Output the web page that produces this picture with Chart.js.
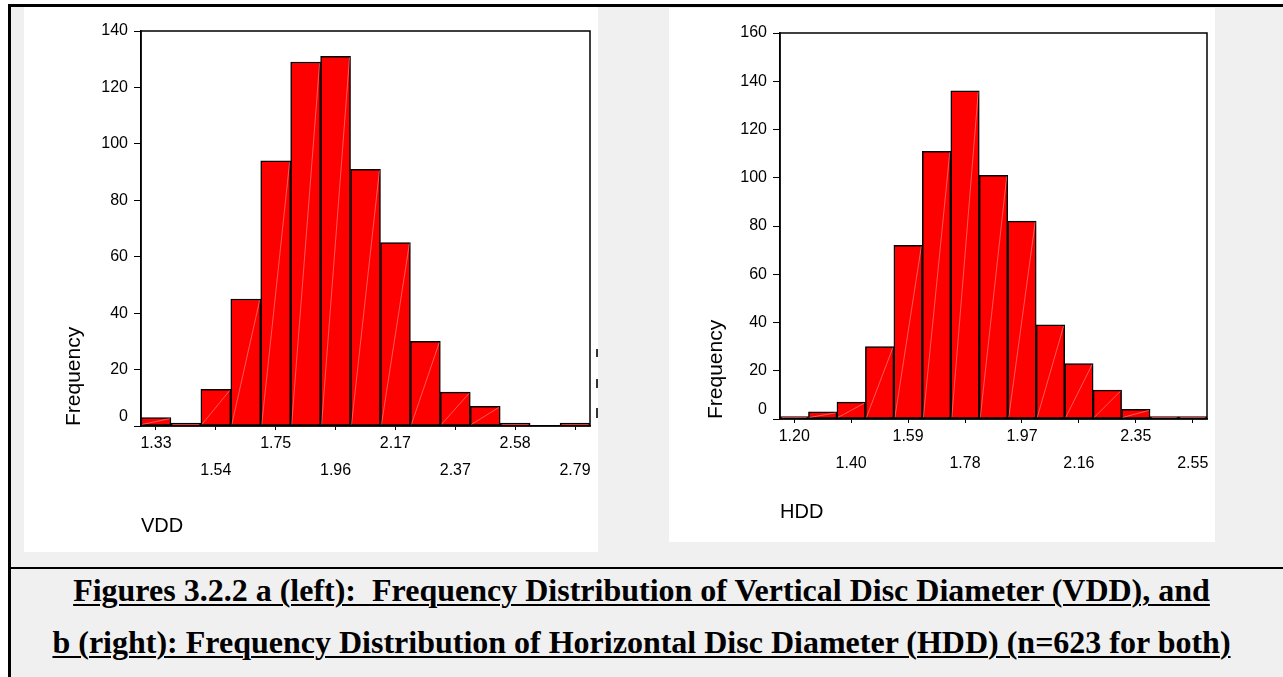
<!DOCTYPE html>
<html lang="en">

<head>
  <meta charset="UTF-8">
  <title>Disc diameter histograms</title>
  <style>
    body {
      margin: 0;
      width: 1283px;
      height: 677px;
      overflow: hidden;
      position: relative;
      background: #fff;
      font-family: "Liberation Sans", Arial, sans-serif;
    }

    #frame {
      position: absolute;
      left: 8px;
      top: 4px;
      width: 1300px;
      height: 700px;
      border-top: 3px solid #000;
      border-left: 3px solid #000;
      background: #f0f0f0;
    }

    #sep {
      position: absolute;
      left: 8px;
      top: 567px;
      width: 1300px;
      height: 2px;
      background: #000;
    }

    .panel {
      position: absolute;
      background: #fff;
    }

    #left-panel { left: 24px; top: 7px; width: 574px; height: 545px; }
    #right-panel { left: 669px; top: 8px; width: 546px; height: 534px; }

    /* clipped bits of a legend at the right edge of the left panel */
    .stub { position: absolute; left: 596px; width: 2px; background: #333; }

    #caption {
      position: absolute;
      left: 0;
      top: 564px;
      width: 1283px;
      text-align: center;
      font: bold 32px "Liberation Serif", "Times New Roman", serif;
      line-height: 52px;
      white-space: pre;
      color: #000;
    }

    #caption span {
      text-decoration: underline;
      text-decoration-thickness: 2px;
      text-underline-offset: 3px;
    }
  </style>
</head>

<body>
  <div id="frame"></div>
  <div id="sep"></div>
  <div class="panel" id="left-panel"><canvas id="vdd" width="574" height="545"></canvas></div>
  <div class="panel" id="right-panel"><canvas id="hdd" width="546" height="534"></canvas></div>
  <div class="stub" style="top:349px;height:8px"></div>
  <div class="stub" style="top:379px;height:9px"></div>
  <div class="stub" style="top:408px;height:10px"></div>
  <div id="caption"><span>Figures 3.2.2 a (left):  Frequency Distribution of Vertical Disc Diameter (VDD), and</span>
<span>b (right): Frequency Distribution of Horizontal Disc Diameter (HDD) (n=623 for both)</span></div>

  <script src="https://cdn.jsdelivr.net/npm/chart.js"></script>
  <script>
    // bins (only every other bin carries a tick label in the original)
    const vddBins = ['1.33', '', '1.54', '', '1.75', '', '1.96', '', '2.17', '', '2.37', '', '2.58', '', '2.79'];
    const vddCounts = [3, 1, 13, 45, 94, 129, 131, 91, 65, 30, 12, 7, 1, 0, 1];

    const hddBins = ['1.20', '', '1.40', '', '1.59', '', '1.78', '', '1.97', '', '2.16', '', '2.35', '', '2.55'];
    const hddCounts = [1, 3, 7, 30, 72, 111, 136, 101, 82, 39, 23, 12, 4, 1, 1];

    const vddMax = 140;
    const hddMax = 160;
    const yStep = 20;

    const sans = '"Liberation Sans", Arial, sans-serif';

    // box round the plot area + the faint diagonal seam the original has in each bar
    const framePlugin = {
      id: 'frame',
      afterDatasetsDraw(chart) {
        const { ctx } = chart;
        ctx.save();
        ctx.strokeStyle = 'rgba(255,255,255,0.35)';
        ctx.lineWidth = 1;
        chart.getDatasetMeta(0).data.forEach((bar) => {
          if (bar.base - bar.y < 3) return;
          const half = bar.width / 2;
          ctx.beginPath();
          ctx.moveTo(bar.x - half + 1, bar.base - 1);
          ctx.lineTo(bar.x + half - 1, bar.y + 1);
          ctx.stroke();
        });
        ctx.restore();
      },
      afterDraw(chart) {
        const { ctx, chartArea: a } = chart;
        ctx.save();
        ctx.strokeStyle = '#000';
        ctx.lineWidth = 1.5;
        ctx.strokeRect(a.left, a.top, a.right - a.left, a.bottom - a.top);
        ctx.restore();
      }
    };

    function makeHistogram(canvasId, bins, counts, yMax, opts) {
      return new Chart(document.getElementById(canvasId), {
        type: 'bar',
        data: {
          labels: bins,
          datasets: [{
            data: counts,
            backgroundColor: '#ff0000',
            borderColor: '#000',
            borderWidth: 1.5,
            borderSkipped: false,
            barPercentage: 1,
            categoryPercentage: 1
          }]
        },
        options: {
          responsive: false,
          animation: false,
          layout: { padding: { left: 0, top: opts.top, right: opts.right, bottom: 0 } },
          plugins: { legend: { display: false }, tooltip: { enabled: false } },
          scales: {
            x: {
              offset: true,
              afterFit: (s) => { s.height = opts.xHeight; },
              border: { display: true, color: '#000', width: 1.5 },
              grid: {
                offset: false,
                drawOnChartArea: false,
                drawTicks: true,
                tickLength: 4,
                color: (ctx) => (ctx.index % 2 === 0 ? '#000' : 'rgba(0,0,0,0)')
              },
              ticks: {
                autoSkip: false,
                maxRotation: 0,
                padding: 1,
                color: '#000',
                font: { family: sans, size: 16, lineHeight: 1.63 },
                callback: function (value, index) {
                  const lab = this.getLabelForValue(value);
                  if (!lab) return '';
                  return (index / 2) % 2 === 0 ? [lab, ''] : ['', lab];
                }
              },
              title: {
                display: true,
                text: opts.xTitle,
                align: 'start',
                color: '#000',
                font: { family: sans, size: 20 },
                padding: { top: 0, bottom: opts.xTitlePad }
              }
            },
            y: {
              min: 0,
              max: yMax,
              afterFit: (s) => { s.width = opts.yWidth; },
              border: { display: true, color: '#000', width: 1.5 },
              grid: { drawOnChartArea: false, drawTicks: true, tickLength: 7, color: '#000' },
              ticks: {
                stepSize: yStep,
                padding: 6,
                color: '#000',
                font: { family: sans, size: 16 },
                callback: (v) => (v === 0 ? ['0', ''] : String(v))
              },
              title: {
                display: true,
                text: 'Frequency',
                align: 'start',
                color: '#000',
                font: { family: sans, size: 21 },
                padding: { top: opts.yTitlePad, bottom: 0 }
              }
            }
          }
        },
        plugins: [framePlugin]
      });
    }

    makeHistogram('vdd', vddBins, vddCounts, vddMax, {
      top: 24, right: 8, xHeight: 126, yWidth: 117, xTitle: 'VDD', xTitlePad: 14, yTitlePad: 38
    });

    makeHistogram('hdd', hddBins, hddCounts, hddMax, {
      top: 25, right: 8, xHeight: 123, yWidth: 111, xTitle: 'HDD', xTitlePad: 18, yTitlePad: 35
    });
  </script>
</body>

</html>
